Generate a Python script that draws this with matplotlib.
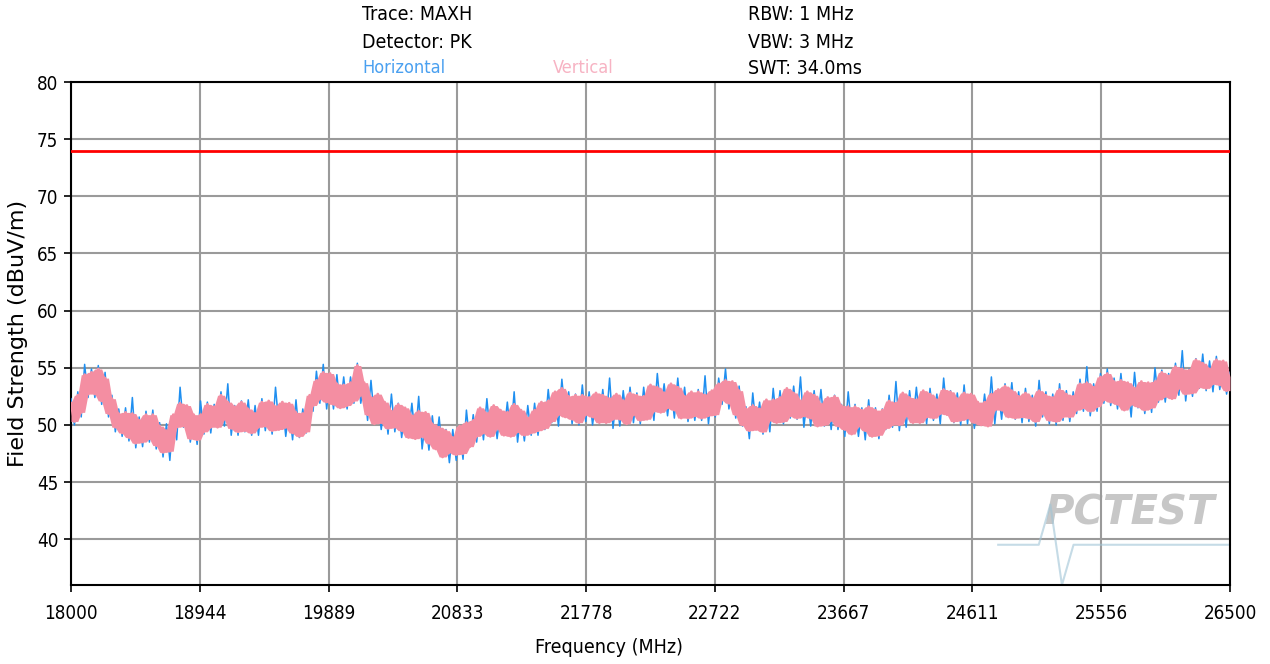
import numpy as np
import matplotlib
matplotlib.use("Agg")
import matplotlib.pyplot as plt

plt.rcParams["path.simplify"] = False

# ---------------- data ----------------
f_start, f_stop = 18000, 26500
limit_level = 74.0
xtick_labels = ["18000", "18944", "19889", "20833", "21778",
                "22722", "23667", "24611", "25556", "26500"]
ytick_values = [40, 45, 50, 55, 60, 65, 70, 75, 80]

# Vertical polarisation trace (pink), one value every 25 MHz
vertical = [
    51.9, 50.3, 52.6, 51.1, 54.4, 52.7, 54.6, 52.7, 54.9, 52.1, 54.1, 51.0, 52.3, 49.8, 51.0, 49.3,
    51.1, 48.9, 51.0, 48.4, 50.4, 48.5, 50.9, 48.8, 50.9, 48.2, 49.9, 47.6, 49.5, 47.7, 50.9, 49.8,
    51.9, 49.9, 51.7, 48.8, 50.9, 48.7, 50.9, 49.4, 51.8, 49.8, 51.6, 49.8, 52.6, 50.5, 52.0, 49.7,
    51.6, 49.4, 52.0, 49.5, 51.4, 49.3, 51.0, 49.8, 52.0, 49.9, 52.1, 49.5, 51.6, 49.6, 52.0, 49.8,
    51.9, 49.3, 51.1, 49.0, 51.0, 49.4, 52.6, 51.7, 53.9, 52.3, 54.6, 52.0, 54.5, 51.8, 53.6, 51.5,
    53.5, 51.7, 53.7, 52.1, 55.2, 52.6, 53.7, 50.9, 52.4, 50.1, 52.7, 50.2, 52.0, 49.7, 51.2, 49.8,
    51.8, 49.5, 51.5, 48.9, 50.8, 48.8, 51.2, 49.0, 51.1, 48.4, 50.1, 47.9, 49.8, 47.2, 49.5, 47.6,
    48.9, 47.4, 49.9, 47.5, 50.2, 48.1, 50.4, 49.0, 51.5, 49.3, 51.0, 49.0, 51.7, 49.7, 51.3, 49.1,
    51.1, 49.0, 51.8, 49.4, 51.3, 49.1, 50.6, 49.3, 51.3, 49.5, 52.0, 49.7, 52.1, 50.3, 52.9, 50.9,
    53.2, 50.7, 52.5, 50.5, 52.6, 50.2, 52.6, 50.9, 52.4, 50.7, 52.8, 50.2, 52.6, 50.2, 52.3, 50.5,
    52.7, 50.5, 52.1, 50.1, 52.8, 50.9, 52.6, 50.4, 52.5, 50.5, 53.5, 51.2, 53.3, 51.1, 52.8, 51.5,
    53.6, 51.3, 53.3, 50.6, 52.5, 50.6, 52.9, 50.8, 52.9, 50.6, 52.6, 50.8, 53.0, 50.9, 53.6, 52.2,
    53.9, 51.9, 53.8, 50.9, 53.0, 50.0, 51.4, 49.5, 51.7, 49.6, 51.4, 49.4, 52.2, 50.4, 52.2, 50.2,
    52.4, 50.3, 53.2, 50.8, 52.8, 50.6, 52.1, 50.8, 52.9, 50.6, 52.6, 49.9, 51.8, 50.0, 52.4, 50.4,
    52.5, 49.9, 51.7, 49.6, 51.6, 49.2, 51.6, 49.9, 51.3, 49.5, 51.6, 49.0, 51.3, 49.1, 51.3, 49.7,
    52.1, 50.0, 51.9, 50.0, 52.8, 50.8, 52.4, 50.2, 52.2, 50.2, 53.0, 50.7, 52.7, 50.6, 52.2, 51.0,
    53.1, 50.9, 52.9, 50.3, 52.3, 50.4, 52.8, 50.6, 52.7, 50.2, 52.0, 50.0, 52.0, 49.9, 52.7, 51.3,
    53.1, 51.3, 53.4, 50.7, 53.0, 50.6, 52.5, 50.7, 52.8, 50.6, 52.3, 50.3, 53.0, 51.0, 52.6, 50.4,
    52.4, 50.3, 53.1, 50.7, 52.7, 50.7, 52.5, 51.3, 53.6, 51.5, 53.7, 51.2, 53.3, 51.6, 54.2, 52.2,
    54.5, 52.0, 53.8, 51.8, 53.9, 51.3, 53.7, 51.8, 53.2, 51.6, 53.8, 51.3, 53.7, 51.5, 53.8, 52.2,
    54.6, 52.5, 54.3, 52.3, 55.1, 53.2, 54.9, 52.7, 54.8, 52.8, 55.7, 53.3, 55.4, 53.2, 54.9, 53.6,
    55.7, 53.5, 55.6, 53.0, 54.2,
]

# Horizontal polarisation trace (blue), one value every 25 MHz
horizontal = [
    52.3, 50.0, 52.9, 50.7, 55.3, 52.4, 54.9, 52.4, 55.2, 51.8, 54.6, 50.7, 52.6, 49.4, 51.4, 49.0,
    51.5, 48.6, 52.4, 48.0, 50.7, 48.1, 51.2, 48.5, 51.3, 47.9, 50.2, 47.2, 50.1, 46.9, 50.8, 48.7,
    53.3, 49.8, 51.6, 48.5, 50.8, 48.3, 52.1, 49.2, 52.0, 49.3, 51.8, 50.0, 52.9, 49.9, 53.6, 49.1,
    51.7, 49.1, 52.1, 49.4, 52.2, 49.1, 51.7, 49.1, 52.3, 49.5, 51.9, 49.2, 53.3, 49.9, 52.0, 49.0,
    51.5, 48.7, 52.2, 48.9, 51.4, 49.3, 52.4, 51.2, 54.7, 51.9, 55.3, 51.4, 54.2, 51.4, 54.4, 51.5,
    54.2, 51.4, 54.2, 51.9, 55.4, 51.9, 53.7, 50.4, 53.9, 50.5, 52.5, 49.6, 52.0, 49.2, 52.7, 49.4,
    51.9, 48.9, 51.2, 49.2, 51.9, 48.8, 52.5, 47.9, 50.5, 47.8, 50.8, 48.0, 50.7, 47.3, 49.6, 46.7,
    49.6, 46.9, 49.5, 47.0, 51.3, 48.4, 50.9, 48.5, 51.4, 48.7, 52.3, 49.1, 51.7, 48.8, 51.2, 49.2,
    52.0, 49.1, 52.9, 48.5, 51.1, 48.6, 51.7, 49.1, 51.9, 49.1, 52.0, 49.6, 53.1, 50.2, 52.6, 49.9,
    54.0, 50.8, 52.9, 50.1, 52.7, 50.0, 53.5, 50.3, 52.9, 50.0, 52.3, 50.3, 53.1, 50.2, 54.1, 49.7,
    52.4, 49.9, 53.0, 50.4, 53.3, 50.2, 52.8, 50.1, 53.3, 50.5, 53.0, 50.4, 54.5, 51.3, 53.6, 50.8,
    53.4, 50.6, 54.1, 50.8, 53.3, 50.3, 52.5, 50.4, 53.1, 50.4, 54.3, 50.1, 52.9, 50.7, 54.1, 51.8,
    54.9, 51.4, 53.6, 50.6, 53.4, 49.9, 51.6, 48.8, 52.8, 49.7, 52.0, 49.2, 51.9, 49.4, 53.2, 50.2,
    53.0, 50.1, 52.6, 50.6, 53.4, 50.5, 54.2, 49.8, 52.5, 49.9, 53.0, 50.3, 53.1, 49.9, 52.3, 49.6,
    52.6, 49.6, 51.8, 49.0, 52.9, 49.7, 51.8, 49.0, 51.5, 48.7, 52.2, 49.0, 51.5, 48.8, 51.4, 49.6,
    52.6, 49.8, 53.8, 49.5, 52.3, 49.8, 53.0, 50.4, 53.3, 50.2, 52.7, 50.1, 53.2, 50.4, 52.7, 50.1,
    54.1, 50.9, 53.0, 50.2, 52.8, 50.0, 53.5, 50.1, 52.6, 49.7, 52.0, 50.0, 52.7, 50.1, 54.2, 50.1,
    53.1, 50.5, 53.6, 50.9, 53.7, 50.5, 52.9, 50.2, 53.2, 50.3, 52.6, 49.9, 53.9, 50.7, 52.9, 50.1,
    52.7, 50.0, 53.6, 50.4, 53.0, 50.3, 52.9, 51.0, 54.0, 51.2, 55.1, 50.8, 53.6, 51.2, 54.5, 51.9,
    54.9, 51.7, 54.1, 51.4, 54.5, 51.4, 53.6, 50.7, 54.6, 51.5, 53.7, 51.0, 53.6, 51.1, 55.0, 52.0,
    54.8, 52.0, 54.5, 52.5, 55.4, 52.6, 56.5, 52.1, 54.9, 52.5, 55.8, 53.2, 56.2, 53.0, 55.6, 52.9,
    56.0, 53.1, 55.4, 52.7, 54.6,
]

# ---------------- figure ----------------
fig = plt.figure(figsize=(12.7, 6.64), dpi=100)
ax = fig.add_axes([71 / 1270, 1 - 585 / 664, (1230 - 71) / 1270, (585 - 82) / 664])

h = np.asarray(horizontal)
v = np.asarray(vertical)
freq_h = np.linspace(f_start, f_stop, len(h))
freq_v = np.linspace(f_start, f_stop, len(v))

# envelope of the vertical trace (max / min of each point and its neighbours)
vp = np.concatenate([[v[0]], v, [v[-1]]])
v_hi = np.maximum(np.maximum(vp[:-2], vp[1:-1]), vp[2:])
v_lo = np.minimum(np.minimum(vp[:-2], vp[1:-1]), vp[2:])

ax.plot(freq_h, h, color="#1f8ff0", lw=1.1, zorder=3)
ax.fill_between(freq_v, v_lo, v_hi, color="#f48ea2", lw=0, zorder=4)
ax.plot(freq_v, v, color="#f48ea2", lw=2.0, zorder=4)
ax.axhline(limit_level, color="red", lw=2.0, zorder=5)

ax.set_xlim(f_start, f_stop)
ax.set_ylim(36, 80)
ax.set_xticks([float(t) for t in xtick_labels])
ax.set_xticklabels(xtick_labels)
ax.set_yticks(ytick_values)
ax.set_yticklabels([str(val) for val in ytick_values])
for lab in ax.get_xticklabels() + ax.get_yticklabels():
    lab.set_fontsize(13.5)
    lab.set_fontstretch("condensed")

ax.tick_params(axis="x", direction="out", length=5, width=1.2, pad=9)
ax.tick_params(axis="y", direction="out", length=5, width=1.2, pad=4)
ax.grid(True, color="#9a9a9a", lw=1.5)
ax.set_axisbelow(True)
for s in ax.spines.values():
    s.set_linewidth(1.5)
    s.set_color("black")

ax.set_xlabel("Frequency (MHz)", fontsize=14, fontstretch="condensed")
ax.xaxis.set_label_coords(0.464, -0.105)
ax.set_ylabel("Field Strength (dBuV/m)", fontsize=16)
ax.yaxis.set_label_coords(-0.0457, 0.5)
ax.yaxis.label.set_va("center")

# header texts
hdr = dict(fontsize=14, va="center", fontstretch="condensed")
fig.text(362 / 1270, 1 - 15 / 664, "Trace: MAXH", **hdr)
fig.text(362 / 1270, 1 - 42 / 664, "Detector: PK", **hdr)
fig.text(362 / 1270, 1 - 68 / 664, "Horizontal", fontsize=13, va="center",
         fontstretch="condensed", color="#4aa0f0")
fig.text(553 / 1270, 1 - 68 / 664, "Vertical", fontsize=13, va="center",
         fontstretch="condensed", color="#f5a0b4", alpha=0.8)
fig.text(748 / 1270, 1 - 15 / 664, "RBW: 1 MHz", **hdr)
fig.text(748 / 1270, 1 - 42 / 664, "VBW: 3 MHz", **hdr)
fig.text(748 / 1270, 1 - 68 / 664, "SWT: 34.0ms", **hdr)

# watermark
ax.text(0.84, 0.12, "PCTEST", transform=ax.transAxes, fontsize=29, fontweight="bold",
        fontstyle="italic", color="#9a9a9a", alpha=0.55, zorder=2)
ax.plot([0.80, 0.835, 0.845, 0.855, 0.865, 1.0], [0.08, 0.08, 0.16, 0.0, 0.08, 0.08],
        transform=ax.transAxes, color="#9fc4d6", lw=1.5, alpha=0.6, zorder=2, clip_on=False)

fig.savefig("out.png", dpi=100, facecolor="white")
